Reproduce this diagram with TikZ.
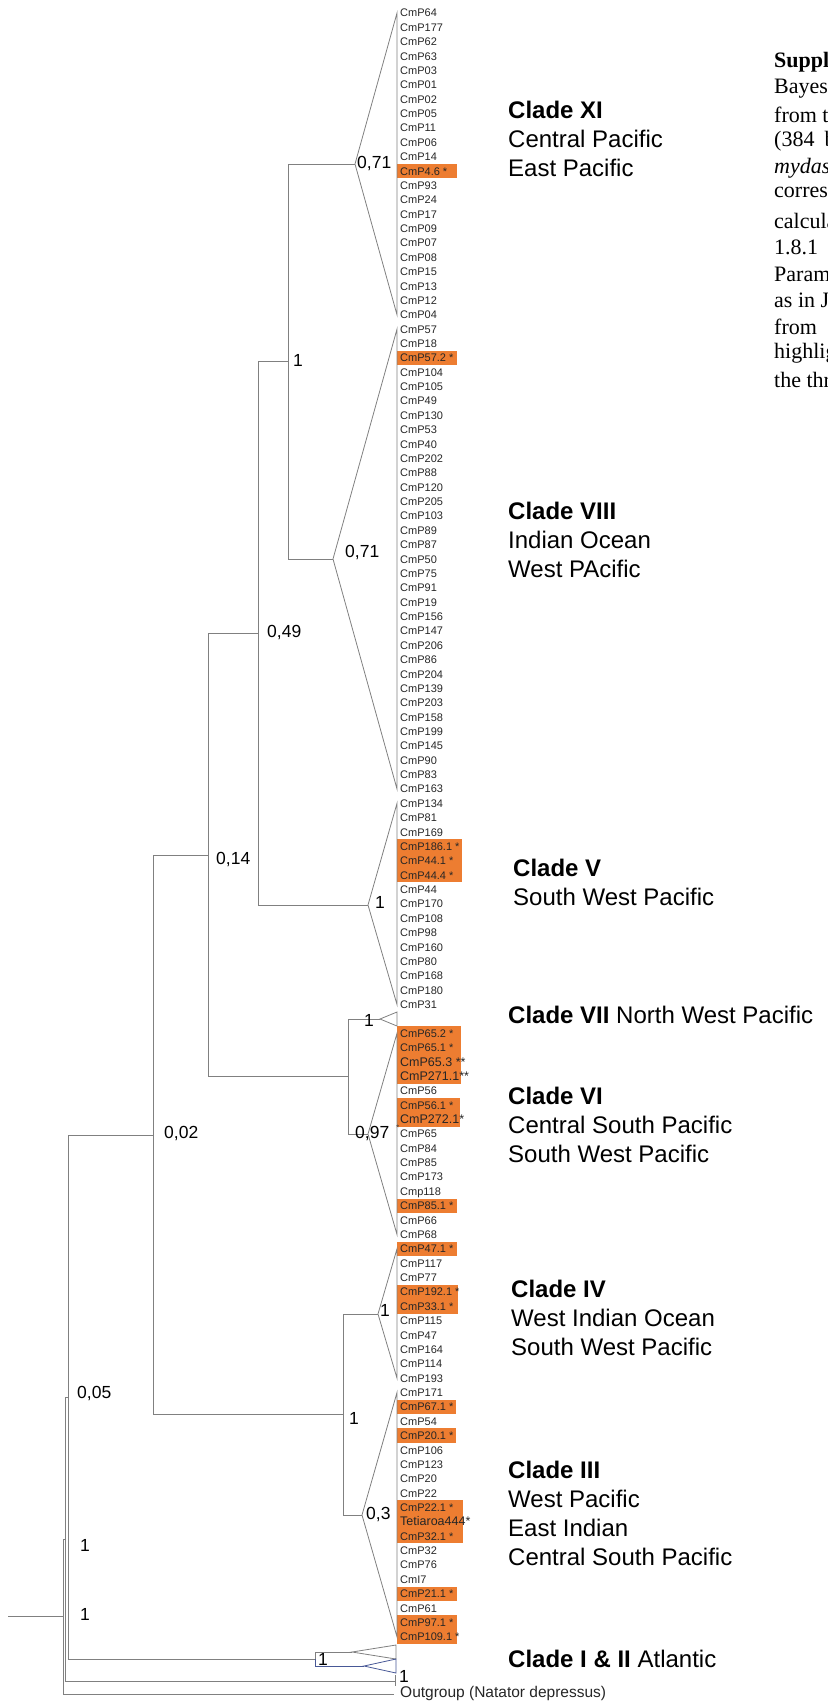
\documentclass[tikz,border=0pt]{standalone}
\usepackage{fontspec}
\setmainfont{Liberation Sans}
\newfontfamily\captionserif{Liberation Serif}
\usetikzlibrary{calc}

\definecolor{hlorange}{RGB}{237,125,49}
\definecolor{treegray}{RGB}{128,128,128}
\definecolor{atlblue}{RGB}{72,88,150}

\begin{document}
\begin{tikzpicture}[x=1pt,y=-1pt]
	\tikzstyle{branch}=[draw=treegray,line width=0.9pt]
	\tikzstyle{clade}=[draw=treegray,line width=0.8pt,line join=miter]
	\tikzstyle{leaf}=[anchor=west,inner sep=0pt,text height=8pt,text depth=0pt,font=\fontsize{11}{13}\selectfont,text=black!85]
	\tikzstyle{support}=[anchor=west,inner sep=0pt,font=\fontsize{17.5}{20}\selectfont]
	\tikzstyle{cladename}=[anchor=west,inner sep=0pt,align=left,font=\fontsize{24}{29}\selectfont]
	\tikzstyle{captext}=[anchor=west,inner sep=0pt,font=\captionserif\fontsize{22}{25}\selectfont]
	\tikzstyle{hl}=[fill=hlorange]

	\newcommand{\rowy}[1]{(13+14.37*(#1))}
	\newcommand{\bigleaf}{\fontsize{12.5}{14}\selectfont}

	\useasboundingbox (0,0) rectangle (827,1704);
	\clip (0,0) rectangle (827,1704);

	% highlighted haplotypes
	\foreach \r/\xr in {11/457,24/457,58/462,59/462,60/462,71/461,72/461,73/461,74/461,76/460,77/460,83/457,86/457,89/458,90/458,97/456,99/456,104/463,105/463,106/463,110/457,112/457,113/457}
		\fill[hl] (397,{\rowy{\r}-7.2}) rectangle (\xr,{\rowy{\r}+7.2});

	% tips
	\foreach \lbl [count=\i from 0] in {CmP64,CmP177,CmP62,CmP63,CmP03,CmP01,CmP02,CmP05,CmP11,CmP06,CmP14,CmP4.6 *,CmP93,CmP24,CmP17,CmP09,CmP07,CmP08,CmP15,CmP13,CmP12,CmP04}
		\node[leaf] (l\i) at (400,{\rowy{\i}}) {\lbl};
	\foreach \lbl [count=\i from 22] in {CmP57,CmP18,CmP57.2 *,CmP104,CmP105,CmP49,CmP130,CmP53,CmP40,CmP202,CmP88,CmP120,CmP205,CmP103,CmP89,CmP87,CmP50,CmP75,CmP91,CmP19,CmP156,CmP147,CmP206,CmP86,CmP204,CmP139,CmP203,CmP158,CmP199,CmP145,CmP90,CmP83,CmP163}
		\node[leaf] (l\i) at (400,{\rowy{\i}}) {\lbl};
	\foreach \lbl [count=\i from 55] in {CmP134,CmP81,CmP169,CmP186.1 *,CmP44.1 *,CmP44.4 *,CmP44,CmP170,CmP108,CmP98,CmP160,CmP80,CmP168,CmP180,CmP31}
		\node[leaf] (l\i) at (400,{\rowy{\i}}) {\lbl};
	\foreach \lbl [count=\i from 71] in {CmP65.2 *,CmP65.1 *,{\bigleaf CmP65.3 **},{\bigleaf CmP271.1**},CmP56,CmP56.1 *,{\bigleaf CmP272.1*},CmP65,CmP84,CmP85,CmP173,Cmp118,CmP85.1 *,CmP66,CmP68}
		\node[leaf] (l\i) at (400,{\rowy{\i}}) {\lbl};
	\foreach \lbl [count=\i from 86] in {CmP47.1 *,CmP117,CmP77,CmP192.1 *,CmP33.1 *,CmP115,CmP47,CmP164,CmP114,CmP193}
		\node[leaf] (l\i) at (400,{\rowy{\i}}) {\lbl};
	\foreach \lbl [count=\i from 96] in {CmP171,CmP67.1 *,CmP54,CmP20.1 *,CmP106,CmP123,CmP20,CmP22,CmP22.1 *,{\bigleaf Tetiaroa444*},CmP32.1 *,CmP32,CmP76,CmI7,CmP21.1 *,CmP61,CmP97.1 *,CmP109.1 *}
		\node[leaf] (l\i) at (400,{\rowy{\i}}) {\lbl};
	\node[leaf,text height=5pt,font=\fontsize{8}{8}\selectfont] (starCmP65) at (396,1128) {*};

	% collapsed clades
	\coordinate (aXI) at (355,164);
	\coordinate (aVIII) at (333,559);
	\coordinate (aV) at (368,905);
	\coordinate (aVII) at (380,1019);
	\coordinate (aVI) at (368,1134);
	\coordinate (aIV) at (378,1314);
	\coordinate (aIII) at (362,1515);
	\draw[clade] (aXI) -- ($(l0.west)+(-3,0)$) -- ($(l21.west)+(-3,0)$) -- cycle;
	\draw[clade] (aVIII) -- ($(l22.west)+(-3,0)$) -- ($(l54.west)+(-3,0)$) -- cycle;
	\draw[clade] (aV) -- ($(l55.west)+(-3,0)$) -- ($(l69.west)+(-3,0)$) -- cycle;
	\draw[clade] (aVII) -- ($(aVII)+(17,-7)$) -- ($(aVII)+(17,7)$) -- cycle;
	\draw[clade] (aVI) -- ($(l71.west)+(-3,0)$) -- ($(l85.west)+(-3,0)$) -- cycle;
	\draw[clade] (aIV) -- ($(l86.west)+(-3,0)$) -- ($(l95.west)+(-3,0)$) -- cycle;
	\draw[clade] (aIII) -- ($(l96.west)+(-3,0)$) -- ($(l113.west)+(-3,0)$) -- cycle;

	% Atlantic clades
	\coordinate (nAtl) at (315,1659);
	\coordinate (aI) at (352,1652);
	\coordinate (aII) at (364,1666);
	\draw[clade] (aI) -- (396,1645) -- (396,1659) -- cycle;
	\draw[clade,draw=atlblue] (aII) -- (396,1659) -- (396,1673) -- cycle;
	\draw[branch] (nAtl) |- (aI);
	\draw[branch,draw=atlblue] (nAtl) |- (aII);

	% internal nodes
	\coordinate (nXIVIII) at (288,361.5);
	\coordinate (nPac) at (258,633);
	\coordinate (nVIIVI) at (348,1076.5);
	\coordinate (nNorth) at (208,855);
	\coordinate (nIVIII) at (343,1414.5);
	\coordinate (nIndoPac) at (153,1135);
	\coordinate (nAll) at (68,1397);
	\coordinate (nGreen) at (65,1539);
	\coordinate (nRoot) at (63,1616.5);
	\coordinate (rootstub) at (8,1616.5);
	\coordinate (tipGreen) at (395,1681);
	\coordinate (tipOut) at (394,1694);

	\draw[branch] (nXIVIII) |- (aXI);
	\draw[branch] (nXIVIII) |- (aVIII);
	\draw[branch] (nPac) |- (nXIVIII);
	\draw[branch] (nPac) |- (aV);
	\draw[branch] (nVIIVI) |- (aVII);
	\draw[branch] (nVIIVI) |- (aVI);
	\draw[branch] (nNorth) |- (nPac);
	\draw[branch] (nNorth) |- (nVIIVI);
	\draw[branch] (nIVIII) |- (aIV);
	\draw[branch] (nIVIII) |- (aIII);
	\draw[branch] (nIndoPac) |- (nNorth);
	\draw[branch] (nIndoPac) |- (nIVIII);
	\draw[branch] (nAll) |- (nIndoPac);
	\draw[branch] (nAll) |- (nAtl);
	\draw[branch] (nGreen) |- (nAll);
	\draw[branch] (nGreen) |- (tipGreen);
	\draw[branch] ($(tipGreen)+(0,-6)$) -- ($(tipGreen)+(0,5)$);
	\draw[branch] (nRoot) |- (nGreen);
	\draw[branch] (nRoot) |- (tipOut);
	\draw[branch] (rootstub) -- (nRoot);
	\node[leaf,text height=11pt,text depth=3pt,font=\fontsize{15.5}{17}\selectfont] (og) at (400,1693) {Outgroup (Natator depressus)};

	% posterior probabilities
	\node[support] (sXI) at (357,164) {0,71};
	\node[support] (sXIVIII) at (293,360) {1};
	\node[support] (sVIII) at (345,553) {0,71};
	\node[support] (sPac) at (267,633) {0,49};
	\node[support] (sV) at (375,902) {1};
	\node[support] (sNorth) at (216,860) {0,14};
	\node[support] (sVII) at (364,1020) {1};
	\node[support] (sVI) at (355,1133) {0,97};
	\node[support] (sIndoPac) at (164,1133) {0,02};
	\node[support] (sIV) at (380,1310) {1};
	\node[support] (sIVIII) at (349,1418) {1};
	\node[support] (sIII) at (366,1514) {0,3};
	\node[support] (sAll) at (77,1393) {0,05};
	\node[support] (sGreen) at (80,1545) {1};
	\node[support] (sRoot) at (80,1614) {1};
	\node[support] (sAtl) at (318,1659) {1};
	\node[support] (sTipGreen) at (399,1676) {1};

	% clade names
	\node[cladename] (cXI) at (508,139) {\textbf{Clade XI}\\Central Pacific\\East Pacific};
	\node[cladename] (cVIII) at (508,540) {\textbf{Clade VIII}\\Indian Ocean\\West PAcific};
	\node[cladename] (cV) at (513,882) {\textbf{Clade V}\\South West Pacific};
	\node[cladename] (cVII) at (508,1015) {\textbf{Clade VII} North West Pacific};
	\node[cladename] (cVI) at (508,1125) {\textbf{Clade VI}\\Central South Pacific\\South West Pacific};
	\node[cladename] (cIV) at (511,1318) {\textbf{Clade IV}\\West Indian Ocean\\South West Pacific};
	\node[cladename] (cIII) at (508,1513) {\textbf{Clade III}\\West Pacific\\East Indian\\Central South Pacific};
	\node[cladename] (cAtl) at (508,1659) {\textbf{Clade I \& II} Atlantic};

	% caption, cut at the page edge
	\foreach \txt [count=\k from 0] in {\textbf{Suppl},Bayesi,from th,{(384\hspace{10pt}bp},\textit{mydas},corresp,calcula,1.8.1,Param,as in J,from,highlig,the thr}
		\node[captext] (cap\k) at (774,{62+26.5*\k}) {\txt};
\end{tikzpicture}
\end{document}
